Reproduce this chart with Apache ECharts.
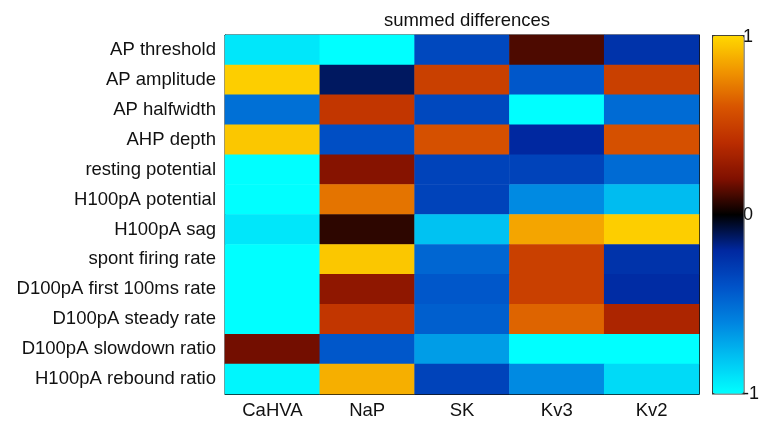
<!DOCTYPE html>
<html>
<head>
<meta charset="utf-8">
<script src="https://cdn.jsdelivr.net/npm/echarts@6/dist/echarts.min.js"></script>
<style>html,body{margin:0;padding:0;background:#fff;}#c{width:762px;height:422px;}</style>
</head>
<body>
<div id="c"></div>
<script>
const channels = ['CaHVA', 'NaP', 'SK', 'Kv3', 'Kv2'];
const features = ['AP threshold', 'AP amplitude', 'AP halfwidth', 'AHP depth', 'resting potential',
  'H100pA potential', 'H100pA sag', 'spont firing rate', 'D100pA first 100ms rate',
  'D100pA steady rate', 'D100pA slowdown ratio', 'H100pA rebound ratio'];
// values per feature row, columns in channel order
const rowAPthreshold   = [-0.92, -1.00, -0.35,  0.12, -0.25];
const rowAPamplitude   = [ 0.97, -0.12,  0.50, -0.42,  0.50];
const rowAPhalfwidth   = [-0.52,  0.45, -0.35, -1.00, -0.50];
const rowAHPdepth      = [ 0.95, -0.38,  0.58, -0.20,  0.58];
const rowResting       = [-1.00,  0.22, -0.33, -0.33, -0.50];
const rowH100potential = [-1.00,  0.70, -0.33, -0.62, -0.78];
const rowH100sag       = [-0.92,  0.07, -0.80,  0.85,  0.97];
const rowSpont         = [-1.00,  0.95, -0.48,  0.50, -0.25];
const rowD100first     = [-1.00,  0.25, -0.42,  0.50, -0.22];
const rowD100steady    = [-1.00,  0.45, -0.45,  0.65,  0.35];
const rowD100slowdown  = [ 0.18, -0.42, -0.68, -1.00, -1.00];
const rowH100rebound   = [-0.97,  0.88, -0.33, -0.62, -0.88];
const rows = [rowAPthreshold, rowAPamplitude, rowAPhalfwidth, rowAHPdepth, rowResting,
  rowH100potential, rowH100sag, rowSpont, rowD100first, rowD100steady, rowD100slowdown, rowH100rebound];
const colorbarTicks = [-1, 0, 1];

const data = [];
rows.forEach((r, yi) => r.forEach((v, xi) => data.push([xi, yi, v])));

const font = 'Liberation Sans, Arial, Helvetica, sans-serif';
const fs = 18.5;
const chart = echarts.init(document.getElementById('c'), null, {renderer: 'canvas'});
chart.setOption({
  animation: false,
  backgroundColor: '#fff',
  title: {
    text: 'summed differences', left: 462, top: 6, textAlign: 'center',
    textStyle: {fontFamily: font, fontSize: fs, fontWeight: 'normal', color: '#111'}
  },
  grid: [
    {left: 225, top: 35, width: 474, height: 359, show: true, borderColor: '#111', borderWidth: 1, backgroundColor: 'transparent'},
    {left: 712, top: 37, width: 31, height: 357, show: false}
  ],
  xAxis: [
    {type: 'category', gridIndex: 0, data: channels, position: 'bottom',
      axisLine: {lineStyle: {color: '#111'}},
      axisTick: {inside: true, alignWithLabel: true, length: 4, lineStyle: {color: '#111'}},
      axisLabel: {fontFamily: font, fontSize: fs, color: '#111', margin: 7},
      splitLine: {show: false}},
    {type: 'category', gridIndex: 0, data: channels, position: 'top',
      axisLine: {lineStyle: {color: '#111'}},
      axisTick: {inside: true, alignWithLabel: true, length: 4, lineStyle: {color: '#111'}},
      axisLabel: {show: false}, splitLine: {show: false}},
    {type: 'value', gridIndex: 1, min: 0, max: 1, show: false}
  ],
  yAxis: [
    {type: 'category', gridIndex: 0, data: features, inverse: true, position: 'left',
      axisLine: {lineStyle: {color: '#111'}},
      axisTick: {inside: true, alignWithLabel: true, length: 4, lineStyle: {color: '#111'}},
      axisLabel: {fontFamily: font, fontSize: fs, color: '#111', margin: 9},
      splitLine: {show: false}},
    {type: 'category', gridIndex: 0, data: features, inverse: true, position: 'right',
      axisLine: {lineStyle: {color: '#111'}},
      axisTick: {inside: true, alignWithLabel: true, length: 4, lineStyle: {color: '#111'}},
      axisLabel: {show: false}, splitLine: {show: false}},
    {type: 'value', gridIndex: 1, min: colorbarTicks[0], max: colorbarTicks[2], interval: 1, position: 'right',
      axisLine: {show: false},
      axisTick: {show: false},
      axisLabel: {fontFamily: font, fontSize: 18, color: '#111', margin: 3,
        formatter: v => colorbarTicks.includes(v) ? String(v) : '',
        verticalAlign: 'middle'},
      splitLine: {show: false}}
  ],
  visualMap: {
    type: 'continuous', min: -1, max: 1, calculable: false, show: true,
    left: 712, top: 35, itemWidth: 31, itemHeight: 358, padding: 0,
    borderColor: '#333', borderWidth: 1.5, seriesIndex: 0, hoverLink: false,
    inRange: {color: ['#00ffff', '#00c2f2', '#0084e0', '#0052c8', '#0028a0', '#000000',
      '#801000', '#ba2c00', '#d85400', '#f09400', '#ffd800']}
  },
  series: [{
    type: 'heatmap', xAxisIndex: 0, yAxisIndex: 0, data: data,
    itemStyle: {borderWidth: 0},
    emphasis: {disabled: true}
  }]
});
</script>
</body>
</html>
